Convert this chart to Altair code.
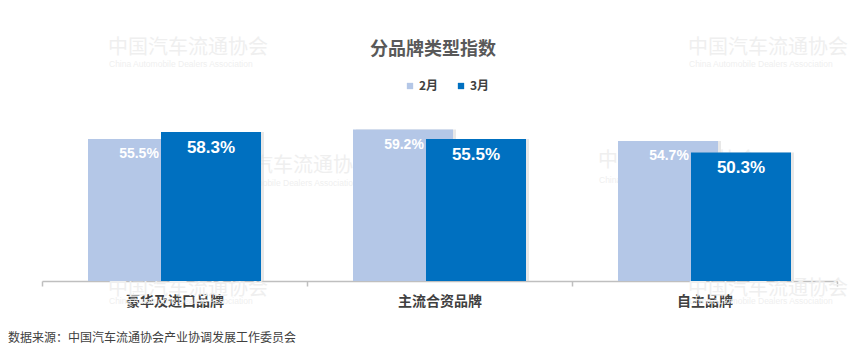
import altair as alt
import pandas as pd

categories = ["豪华及进口品牌", "主流合资品牌", "自主品牌"]
series = ["2月", "3月"]
feb = [55.5, 59.2, 54.7]
mar = [58.3, 55.5, 50.3]
colors = ["#B4C7E7", "#0070C0"]

rows = []
for c, a, b in zip(categories, feb, mar):
    rows.append({"cat": c, "series": series[0], "value": a, "label": f"{a:.1f}%"})
    rows.append({"cat": c, "series": series[1], "value": b, "label": f"{b:.1f}%"})
df = pd.DataFrame(rows)

CJK = "Noto Sans CJK SC"
NARROW = "Liberation Sans Narrow, Arial Narrow, Liberation Sans, sans-serif"
PL, PT = 42, 102

x_axis = alt.X("cat:N", sort=categories,
               scale=alt.Scale(paddingInner=0, paddingOuter=0),
               axis=alt.Axis(title=None, labelAngle=0, tickBand="extent",
                             labelFont=CJK, labelFontSize=14, labelFontWeight="bold",
                             labelColor="#404040", labelPadding=8,
                             domainColor="#BFBFBF", domainWidth=1.5,
                             tickColor="#BFBFBF", tickSize=5, tickWidth=1.5))
y_enc = alt.Y("value:Q", scale=alt.Scale(domain=[0, 70], nice=False), axis=None)
color_enc = alt.Color("series:N", scale=alt.Scale(domain=series, range=colors),
                      legend=alt.Legend(title=None, orient="none", direction="horizontal",
                                        legendX=362, legendY=-22,
                                        symbolType="square", symbolSize=40,
                                        symbolStrokeWidth=0,
                                        labelFont=CJK, labelFontSize=12,
                                        labelFontWeight="bold", labelColor="#404040",
                                        columnPadding=16, labelOffset=3))

base = alt.Chart(df)

# watermarks (decorative)
wm = [
    ("中国汽车流通协会", 108, 48, 20), ("China Automobile Dealers Association", 109, 64, 8.5),
    ("中国汽车流通协会", 688, 48, 20), ("China Automobile Dealers Association", 689, 64, 8.5),
    ("中国汽车流通协会", 213, 166, 20), ("China Automobile Dealers Association", 214, 183, 8.5),
    ("中国汽车流通协会", 598, 161, 20), ("China Automobile Dealers Association", 599, 180, 8.5),
    ("中国汽车流通协会", 108, 289, 20), ("China Automobile Dealers Association", 109, 301, 8.5),
    ("中国汽车流通协会", 688, 289, 20), ("China Automobile Dealers Association", 689, 301, 8.5),
]
layers = []
for t, wx, wy, fs in wm:
    layers.append(
        alt.Chart(pd.DataFrame({"t": [t]})).mark_text(
            font=CJK if fs > 10 else "Liberation Sans", fontSize=fs, color="#EFEFEF",
            align="left", baseline="middle"
        ).encode(text="t:N", x=alt.value(wx - PL), y=alt.value(wy - PT))
    )

offsets = [-36.5, 36.5]
for i, s in enumerate(series):
    sub = base.transform_filter(alt.datum.series == s)
    layers.append(sub.mark_bar(width=100, xOffset=offsets[i] + 3, color="#D9D9D9", opacity=0.6)
                  .encode(x=x_axis, y=y_enc))
    layers.append(sub.mark_bar(width=100, xOffset=offsets[i])
                  .encode(x=x_axis, y=y_enc, color=color_enc))

for i, s in enumerate(series):
    sub = base.transform_filter(alt.datum.series == s)
    layers.append(sub.mark_text(xOffset=offsets[i] + (0 if i else 1), dy=16 if i else 15,
                                font=NARROW, fontSize=17 if i else 14, fontWeight="bold",
                                color="white", baseline="middle")
                  .encode(x=x_axis, y=y_enc, text="label:N"))

layers.append(
    alt.Chart(pd.DataFrame({"t": ["分品牌类型指数"]})).mark_text(
        font=CJK, fontSize=18, fontWeight="bold", color="#595959",
        align="center", baseline="middle"
    ).encode(text="t:N", x=alt.value(433 - PL), y=alt.value(50 - PT))
)
layers.append(
    alt.Chart(pd.DataFrame({"t": ["数据来源：中国汽车流通协会产业协调发展工作委员会"]})).mark_text(
        font=CJK, fontSize=12, color="#404040", align="left", baseline="middle"
    ).encode(text="t:N", x=alt.value(8 - PL), y=alt.value(338 - PT))
)

chart = alt.layer(*layers).properties(
    width=795, height=179, autosize="none", background="white",
    padding={"left": PL, "top": PT, "right": 28, "bottom": 73},
).configure_view(stroke=None)

chart.save("out.html", embed_options={"renderer": "svg", "actions": False})
